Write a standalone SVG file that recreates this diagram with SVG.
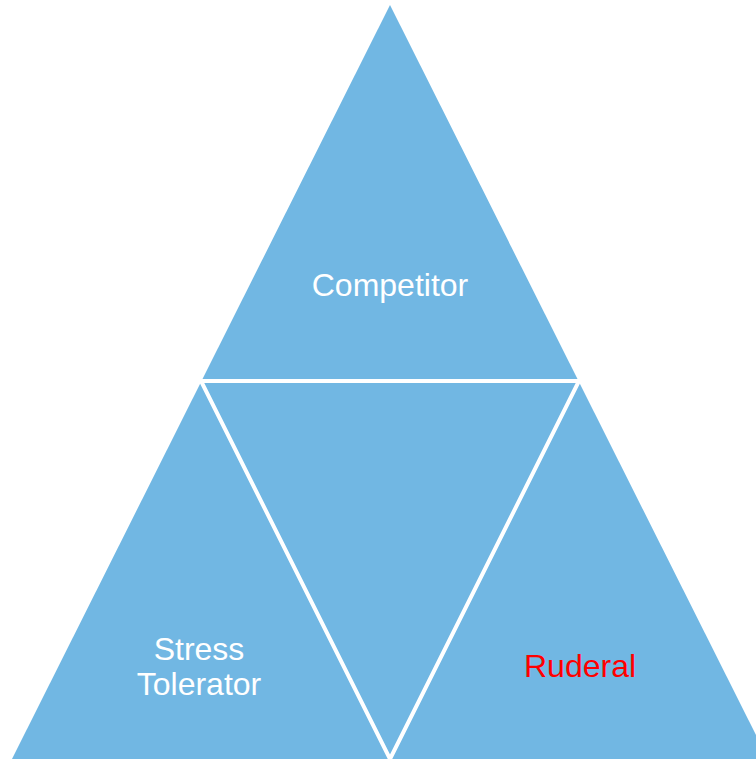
<svg xmlns="http://www.w3.org/2000/svg" width="756" height="759" viewBox="0 0 756 759">
  <style>
    .tri { fill: #71B7E3; }
    .gap { fill: none; stroke: #FFFFFF; stroke-width: 4; stroke-linejoin: miter; }
    .lbl { font-family: "Liberation Sans", Arial, sans-serif; font-size: 32px; text-anchor: middle; fill: #FFFFFF; }
    .red { fill: #FF0000; }
  </style>
  <rect width="756" height="759" fill="#FFFFFF"/>
  <g id="shape">
    <polygon class="tri" points="390,5 12,759 768,759"/>
  </g>
  <g id="connectors">
    <polygon class="gap" points="201,381 579,381 390,759"/>
  </g>
  <g id="competitor">
    <text class="lbl" x="390" y="296">Competitor</text>
  </g>
  <g id="stress-tolerator">
    <text class="lbl" x="199" y="660">Stress</text>
    <text class="lbl" x="199" y="695">Tolerator</text>
  </g>
  <g id="ruderal">
    <text class="lbl red" x="580" y="677">Ruderal</text>
  </g>
</svg>
